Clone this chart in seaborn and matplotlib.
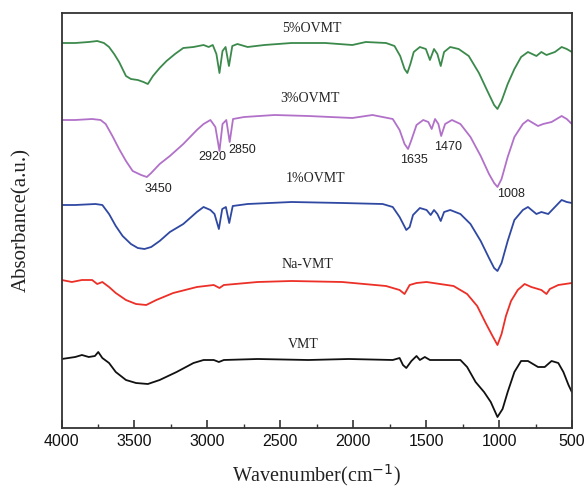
import pandas as pd
import seaborn as sns
import matplotlib.pyplot as plt
from matplotlib.ticker import MultipleLocator

# FTIR spectra (wavenumber in cm-1, stacked absorbance in a.u.)
wn_5 = [3998, 3906, 3813, 3755, 3709, 3674, 3639, 3605, 3558, 3524, 3477, 3438, 3408, 3373,
        3327, 3280, 3222, 3165, 3095, 3026, 2991, 2963, 2938, 2917, 2896, 2875, 2852, 2829,
        2794, 2724, 2609, 2423, 2192, 2006, 1914, 1775, 1717, 1678, 1648, 1629, 1608, 1585,
        1543, 1502, 1474, 1446, 1423, 1400, 1377, 1335, 1277, 1208, 1138, 1080, 1034, 1011,
        983, 941, 895, 849, 802, 744, 710, 675, 617, 571, 536, 501]
ab_5 = [3.85, 3.85, 3.86, 3.87, 3.85, 3.81, 3.74, 3.66, 3.52, 3.49, 3.48, 3.46, 3.44, 3.52,
        3.60, 3.67, 3.74, 3.80, 3.81, 3.83, 3.81, 3.83, 3.74, 3.55, 3.77, 3.81, 3.62, 3.82,
        3.84, 3.81, 3.83, 3.85, 3.85, 3.83, 3.86, 3.85, 3.82, 3.72, 3.59, 3.55, 3.64, 3.76,
        3.81, 3.79, 3.68, 3.79, 3.74, 3.62, 3.76, 3.81, 3.79, 3.72, 3.55, 3.37, 3.23, 3.19,
        3.27, 3.44, 3.59, 3.71, 3.76, 3.72, 3.76, 3.73, 3.76, 3.81, 3.79, 3.76]

wn_3 = [3998, 3906, 3790, 3732, 3697, 3651, 3605, 3558, 3512, 3454, 3415, 3385, 3327, 3257,
        3165, 3072, 3026, 2979, 2945, 2917, 2896, 2870, 2847, 2824, 2748, 2539, 2308, 2006,
        1868, 1729, 1682, 1648, 1624, 1601, 1566, 1520, 1485, 1462, 1439, 1416, 1397, 1370,
        1323, 1265, 1196, 1126, 1069, 1034, 1011, 983, 941, 895, 837, 802, 733, 698, 640,
        571, 536, 501]
ab_3 = [3.08, 3.08, 3.09, 3.08, 3.04, 2.92, 2.79, 2.67, 2.57, 2.53, 2.51, 2.55, 2.64, 2.72,
        2.84, 2.98, 3.04, 3.08, 3.01, 2.77, 3.04, 3.08, 2.86, 3.09, 3.11, 3.13, 3.12, 3.10,
        3.13, 3.09, 2.98, 2.84, 2.79, 2.88, 3.03, 3.08, 3.06, 2.99, 3.09, 3.04, 2.92, 3.04,
        3.08, 3.04, 2.91, 2.72, 2.54, 2.45, 2.41, 2.49, 2.71, 2.91, 3.04, 3.08, 3.02, 3.04,
        3.06, 3.12, 3.09, 3.04]

wn_1 = [3998, 3906, 3767, 3720, 3674, 3628, 3581, 3524, 3477, 3431, 3385, 3327, 3257, 3165,
        3072, 3026, 2979, 2951, 2921, 2898, 2873, 2850, 2826, 2724, 2423, 2076, 1798, 1729,
        1682, 1636, 1613, 1590, 1543, 1497, 1469, 1446, 1423, 1400, 1377, 1335, 1265, 1196,
        1126, 1069, 1034, 1011, 983, 941, 895, 837, 802, 744, 710, 663, 617, 571, 536, 501]
ab_1 = [2.23, 2.23, 2.24, 2.23, 2.14, 2.02, 1.92, 1.84, 1.80, 1.79, 1.81, 1.87, 1.96, 2.04,
        2.16, 2.21, 2.18, 2.14, 1.99, 2.19, 2.21, 2.05, 2.22, 2.24, 2.26, 2.25, 2.24, 2.21,
        2.11, 1.98, 2.01, 2.13, 2.20, 2.18, 2.13, 2.18, 2.14, 2.07, 2.16, 2.18, 2.14, 2.04,
        1.87, 1.70, 1.60, 1.57, 1.65, 1.87, 2.08, 2.18, 2.21, 2.14, 2.16, 2.14, 2.21, 2.28,
        2.26, 2.25]

wn_na = [3998, 3929, 3860, 3790, 3755, 3720, 3674, 3628, 3558, 3489, 3419, 3350, 3234, 3072,
         2956, 2917, 2887, 2655, 2423, 2076, 1775, 1682, 1648, 1613, 1566, 1497, 1405, 1312,
         1219, 1150, 1092, 1045, 1011, 983, 953, 918, 872, 825, 779, 710, 675, 652, 594, 501]
ab_na = [1.48, 1.46, 1.48, 1.48, 1.44, 1.46, 1.41, 1.35, 1.28, 1.24, 1.23, 1.28, 1.35, 1.41,
         1.43, 1.40, 1.43, 1.46, 1.47, 1.46, 1.42, 1.38, 1.34, 1.43, 1.45, 1.46, 1.44, 1.42,
         1.34, 1.22, 1.05, 0.92, 0.83, 0.94, 1.12, 1.27, 1.38, 1.44, 1.41, 1.38, 1.34, 1.39,
         1.43, 1.45]

wn_vmt = [3998, 3906, 3860, 3813, 3771, 3748, 3720, 3674, 3628, 3558, 3489, 3408, 3327, 3211,
          3095, 3026, 2956, 2921, 2887, 2655, 2308, 2030, 1729, 1682, 1659, 1636, 1601, 1566,
          1543, 1509, 1474, 1265, 1219, 1161, 1103, 1057, 1011, 976, 941, 895, 849, 802, 733,
          687, 640, 594, 559, 524, 501]
ab_vmt = [0.69, 0.71, 0.73, 0.71, 0.72, 0.76, 0.70, 0.65, 0.56, 0.48, 0.45, 0.44, 0.48, 0.56,
          0.65, 0.68, 0.68, 0.66, 0.68, 0.69, 0.68, 0.69, 0.68, 0.70, 0.63, 0.60, 0.67, 0.72,
          0.68, 0.71, 0.68, 0.68, 0.61, 0.46, 0.36, 0.26, 0.11, 0.19, 0.36, 0.56, 0.67, 0.67,
          0.61, 0.61, 0.67, 0.65, 0.56, 0.43, 0.36]

samples = ["5%OVMT", "3%OVMT", "1%OVMT", "Na-VMT", "VMT"]
colors = ["#3b8a4c", "#b271c9", "#2f48a2", "#ec2f27", "#111111"]
label_pos = [(2283, 4.00), (2296, 3.30), (2262, 2.50), (2312, 1.64), (2344, 0.83)]

peaks = ["3450", "2920", "2850", "1635", "1470", "1008"]
peak_pos = [(3338, 2.39), (2968, 2.71), (2759, 2.78), (1583, 2.68), (1353, 2.81), (918, 2.34)]

spectra = [(wn_5, ab_5), (wn_3, ab_3), (wn_1, ab_1), (wn_na, ab_na), (wn_vmt, ab_vmt)]
df = pd.concat([pd.DataFrame({"wavenumber": w, "absorbance": a, "sample": s})
                for (w, a), s in zip(spectra, samples)], ignore_index=True)

sns.set_theme(style="white")
plt.rcParams["font.family"] = ["Liberation Sans", "DejaVu Sans"]

fig = plt.figure(figsize=(5.88, 4.92), dpi=100)
ax = fig.add_axes([61.5 / 588, 64 / 492, 510.5 / 588, 415 / 492])

sns.lineplot(data=df, x="wavenumber", y="absorbance", hue="sample", hue_order=samples,
             palette=colors, estimator=None, legend=False, linewidth=1.3, ax=ax)

for s, (x, y) in zip(samples, label_pos):
    ax.text(x, y, s, ha="center", va="center", fontsize=10,
            family=["Liberation Serif", "DejaVu Serif"], color="#222222")
for p, (x, y) in zip(peaks, peak_pos):
    ax.text(x, y, p, ha="center", va="center", fontsize=9, color="#222222")

ax.set_xlim(4000, 500)
ax.set_ylim(0, 4.15)
ax.set_yticks([])
ax.xaxis.set_major_locator(MultipleLocator(500))
ax.xaxis.set_minor_locator(MultipleLocator(250))
ax.tick_params(axis="x", which="major", direction="in", length=6, width=1.2,
               labelsize=11.5, pad=4, colors="#333333", labelcolor="#111111", bottom=True)
ax.tick_params(axis="x", which="minor", direction="in", length=3, width=1.0,
               colors="#333333", bottom=True)
for sp in ax.spines.values():
    sp.set_color("#333333")
    sp.set_linewidth(1.3)

ax.set_xlabel("Wavenumber(cm$^{-1}$)", fontsize=14.5, family=["Liberation Serif"],
              labelpad=10, color="#222222")
ax.set_ylabel("Absorbance(a.u.)", fontsize=15, family=["Liberation Serif"],
              labelpad=22, color="#222222")

fig.savefig("out.png", dpi=100)
